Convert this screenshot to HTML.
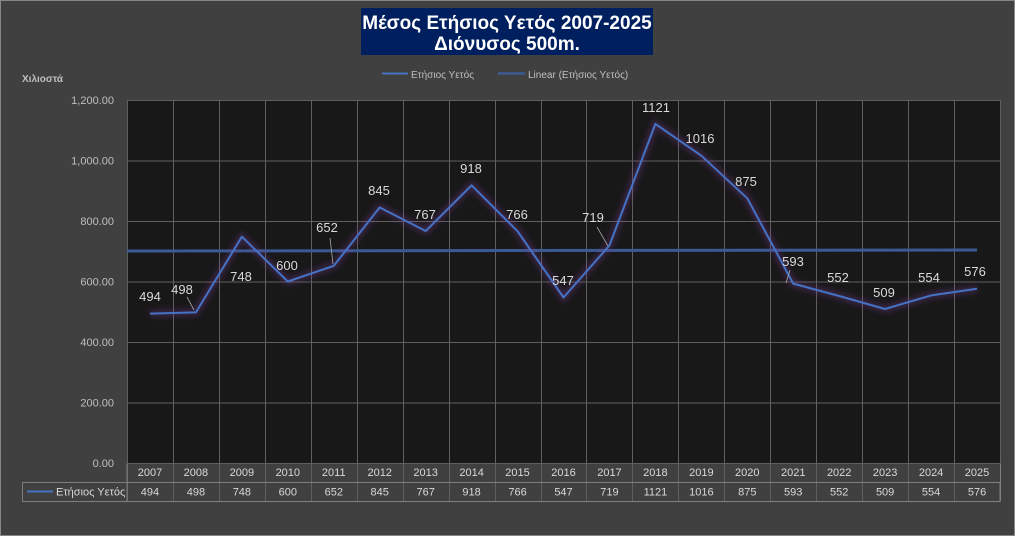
<!DOCTYPE html>
<html><head><meta charset="utf-8"><style>
html,body{margin:0;padding:0;background:#404040;}
svg{display:block;font-family:"Liberation Sans","DejaVu Sans",sans-serif;}
</style></head><body>
<svg width="1015" height="536" viewBox="0 0 1015 536" xmlns="http://www.w3.org/2000/svg">
<defs><filter id="g" x="-10%" y="-10%" width="120%" height="120%"><feGaussianBlur stdDeviation="3"/></filter></defs>
<rect x="0" y="0" width="1015" height="536" fill="#404040"/>
<rect x="0.5" y="0.5" width="1014" height="535" fill="none" stroke="#888" stroke-width="1"/>
<rect x="361" y="8" width="292" height="47" fill="#001f5f"/>
<text x="507" y="29" fill="#fff" font-size="19" font-weight="bold" text-anchor="middle">Μέσος Ετήσιος Υετός 2007-2025</text>
<text x="507" y="50" fill="#fff" font-size="19" font-weight="bold" text-anchor="middle">Διόνυσος 500m.</text>
<line x1="382" y1="73.5" x2="408" y2="73.5" stroke="#4472c4" stroke-width="2"/>
<text x="411" y="78" fill="#bfbfbf" font-size="10">Ετήσιος Υετός</text>
<line x1="498" y1="73.5" x2="525" y2="73.5" stroke="#3a5a94" stroke-width="2.5"/>
<text x="528" y="78" fill="#bfbfbf" font-size="10">Linear (Ετήσιος Υετός)</text>
<text x="22" y="82" fill="#bfbfbf" font-size="10" font-weight="bold">Χιλιοστά</text>
<rect x="127" y="100" width="873" height="363" fill="#181818"/>
<g stroke="#5f5f5f" stroke-width="1" id="grid"></g>
<g fill="#bfbfbf" font-size="11" text-anchor="end" id="ylab"></g>
<g id="tbl"></g>
<line x1="127" y1="251" x2="977" y2="250" stroke="#3a5a94" stroke-width="3"/>
<polyline id="glow" fill="none" stroke="#7a3f9a" stroke-opacity="0.35" stroke-width="7" filter="url(#g)"/>
<polyline id="ser" fill="none" stroke="#4472c4" stroke-width="2" stroke-linejoin="round"/>
<g stroke="#a6a6a6" stroke-width="0.8">
<line x1="187" y1="297" x2="194" y2="310"/>
<line x1="330" y1="238" x2="333" y2="264"/>
<line x1="597" y1="227" x2="608" y2="246"/>
<line x1="790" y1="270" x2="786" y2="283"/>
</g>
<g fill="#d9d9d9" font-size="13" text-anchor="middle" id="lab"></g>
<text x="24" y="0" fill="none"> </text>
</svg>
<script>
var ns="http://www.w3.org/2000/svg";
function el(t,a,p,txt){var e=document.createElementNS(ns,t);for(var k in a)e.setAttribute(k,a[k]);if(txt!==undefined)e.textContent=txt;document.getElementById(p)?document.getElementById(p).appendChild(e):p.appendChild(e);return e;}
var L=127,R=1000,W=(R-L)/19,Y0=463,S=363/1200;
var yrs=[],vals=[494,498,748,600,652,845,767,918,766,547,719,1121,1016,875,593,552,509,554,576];
for(var i=0;i<19;i++)yrs.push(2007+i);
var g=document.getElementById('grid');
for(var v=0;v<=1200;v+=200){var y=Y0-v*S;el('line',{x1:L,y1:y+0.5,x2:R,y2:y+0.5},g);el('text',{x:114,y:y+4},'ylab',(v==0?'0.00':(v>=1000?'1,'+String(v-1000).padStart(3,'0')+'.00':v+'.00')));}
for(var i=0;i<=19;i++){var x=Math.round(L+i*W)+0.5;el('line',{x1:x,y1:100,x2:x,y2:501},g);}
var t=document.getElementById('tbl');
el('line',{x1:L,y1:482.5,x2:R,y2:482.5,stroke:'#7f7f7f'},t);
el('rect',{x:22.5,y:482.5,width:R-22.5,height:19,fill:'none',stroke:'#7f7f7f'},t);
el('line',{x1:L,y1:463.5,x2:L,y2:501,stroke:'#7f7f7f'},t);
el('line',{x1:R+0.5,y1:463.5,x2:R+0.5,y2:501,stroke:'#7f7f7f'},t);
el('line',{x1:27,y1:491.5,x2:53,y2:491.5,stroke:'#4472c4','stroke-width':2},t);
el('text',{x:56,y:495.5,fill:'#d9d9d9','font-size':11},t,'Ετήσιος Υετός');
var pts=[];
for(var i=0;i<19;i++){var cx=L+W*(i+0.5);pts.push(cx.toFixed(1)+','+(Y0-vals[i]*S).toFixed(1));
el('text',{x:cx,y:476,fill:'#d9d9d9','font-size':11,'text-anchor':'middle'},t,yrs[i]);
el('text',{x:cx,y:495.5,fill:'#d9d9d9','font-size':11,'text-anchor':'middle'},t,vals[i]);}
document.getElementById('ser').setAttribute('points',pts.join(' '));
document.getElementById('glow').setAttribute('points',pts.join(' '));
var lp=[[150,301],[182,294],[241,281],[287,270],[327,232],[379,195],[425,219],[471,173],[517,219],[563,285],[593,222],[656,112],[700,143],[746,186],[793,266],[838,282],[884,297],[929,282],[975,276]];
for(var i=0;i<19;i++)el('text',{x:lp[i][0],y:lp[i][1]},'lab',vals[i]);
</script>
</body></html>
